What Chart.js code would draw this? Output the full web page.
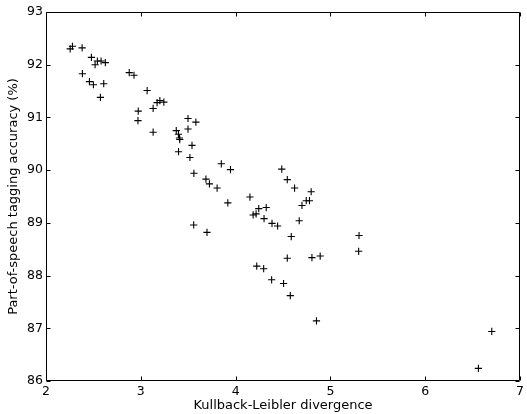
<!DOCTYPE html>
<html>
<head>
<meta charset="utf-8">
<script src="https://cdn.jsdelivr.net/npm/chart.js@4.4.1/dist/chart.umd.min.js"></script>
<style>
  html, body { margin: 0; padding: 0; background: #ffffff; }
  #wrap { width: 527px; height: 414px; }
</style>
</head>
<body>
<div id="wrap"><canvas id="c" width="527" height="414"></canvas></div>
<script>
// KL divergence (x) vs. POS tagging accuracy (y)
const klDivergence = [
  2.255, 2.279, 2.381, 2.479, 2.518, 2.542, 2.581, 2.626, 2.384, 2.458,
  2.500, 2.609, 2.574, 2.878, 2.928, 3.067, 3.172, 3.201, 3.243, 2.973,
  2.970, 3.130, 3.130, 3.498, 3.581, 3.498, 3.374, 3.397, 3.408, 3.411,
  3.540, 3.398, 3.518, 3.849, 3.946, 3.560, 3.687, 3.724, 3.805, 3.918,
  3.698, 3.558, 4.151, 4.244, 4.323, 4.185, 4.216, 4.300, 4.384, 4.443,
  4.487, 4.545, 4.622, 4.797, 4.745, 4.779, 4.700, 4.671, 4.587, 4.545,
  4.805, 4.892, 5.302, 5.298, 4.223, 4.296, 4.380, 4.506, 4.577, 4.853,
  6.561, 6.702
];
const accuracy = [
  92.30, 92.35, 92.32, 92.14, 92.00, 92.07, 92.07, 92.04, 91.83, 91.68,
  91.62, 91.64, 91.38, 91.85, 91.80, 91.51, 91.28, 91.32, 91.29, 91.12,
  90.94, 91.17, 90.72, 90.98, 90.91, 90.78, 90.75, 90.68, 90.61, 90.58,
  90.47, 90.35, 90.24, 90.12, 90.01, 89.94, 89.83, 89.74, 89.66, 89.38,
  88.82, 88.96, 89.49, 89.27, 89.29, 89.15, 89.17, 89.08, 88.99, 88.94,
  90.02, 89.82, 89.66, 89.59, 89.42, 89.42, 89.33, 89.04, 88.74, 88.33,
  88.34, 88.37, 88.76, 88.46, 88.18, 88.13, 87.92, 87.85, 87.62, 87.14,
  86.24, 86.94
];
const xTicks = [2, 3, 4, 5, 6, 7];
const yTicks = [86, 87, 88, 89, 90, 91, 92, 93];
const xLabel = 'Kullback-Leibler divergence';
const yLabel = 'Part-of-speech tagging accuracy (%)';

const points = klDivergence.map((x, i) => ({ x: x, y: accuracy[i] }));

const FONT = 'DejaVu Sans';

const boxTicks = {
  id: 'boxTicks',
  afterDraw(chart) {
    const { ctx, chartArea: a, scales } = chart;
    const L = Math.round(a.left) + 0.5, R = Math.round(a.right) - 0.5;
    const T = Math.round(a.top) + 0.5, B = Math.round(a.bottom) - 0.5;
    const len = 4;
    ctx.save();
    ctx.strokeStyle = '#000000';
    ctx.lineWidth = 1;
    ctx.beginPath();
    ctx.rect(L, T, R - L, B - T);
    ctx.stroke();
    ctx.beginPath();
    xTicks.forEach(v => {
      const px = Math.round(scales.x.getPixelForValue(v)) + 0.5;
      ctx.moveTo(px, B); ctx.lineTo(px, B - len);
      ctx.moveTo(px, T); ctx.lineTo(px, T + len);
    });
    yTicks.forEach(v => {
      const py = Math.round(scales.y.getPixelForValue(v)) + 0.5;
      ctx.moveTo(L, py); ctx.lineTo(L + len, py);
      ctx.moveTo(R, py); ctx.lineTo(R - len, py);
    });
    ctx.stroke();
    ctx.restore();
  }
};

new Chart(document.getElementById('c'), {
  type: 'scatter',
  data: {
    datasets: [{
      data: points,
      pointStyle: 'cross',
      pointRadius: 3.6,
      pointBorderColor: '#000000',
      pointBackgroundColor: '#000000',
      pointBorderWidth: 1.1,
      pointHoverRadius: 3.6
    }]
  },
  options: {
    responsive: false,
    animation: false,
    events: [],
    layout: { padding: { left: 0, right: 5, top: 12, bottom: 0 } },
    plugins: { legend: { display: false }, tooltip: { enabled: false } },
    scales: {
      x: {
        type: 'linear',
        min: 2, max: 7,
        afterFit(s) { s.height = 33; },
        afterBuildTicks(s) { s.ticks = xTicks.map(v => ({ value: v })); },
        grid: { display: false, drawTicks: false },
        border: { display: false },
        ticks: {
          color: '#000000',
          font: { family: FONT, size: 12.5 },
          padding: 3,
          maxRotation: 0,
          callback: v => String(v)
        },
        title: {
          display: true,
          text: xLabel,
          color: '#000000',
          font: { family: FONT, size: 13 },
          padding: { top: 0, bottom: 1 }
        }
      },
      y: {
        type: 'linear',
        min: 86, max: 93,
        afterFit(s) { s.width = 46; },
        afterBuildTicks(s) { s.ticks = yTicks.map(v => ({ value: v })); },
        grid: { display: false, drawTicks: false },
        border: { display: false },
        ticks: {
          color: '#000000',
          font: { family: FONT, size: 12.5 },
          padding: 3,
          callback: v => String(v)
        },
        title: {
          display: true,
          text: yLabel,
          color: '#000000',
          font: { family: FONT, size: 13 },
          padding: { top: 6, bottom: 0 }
        }
      }
    }
  },
  plugins: [boxTicks]
});
</script>
</body>
</html>
